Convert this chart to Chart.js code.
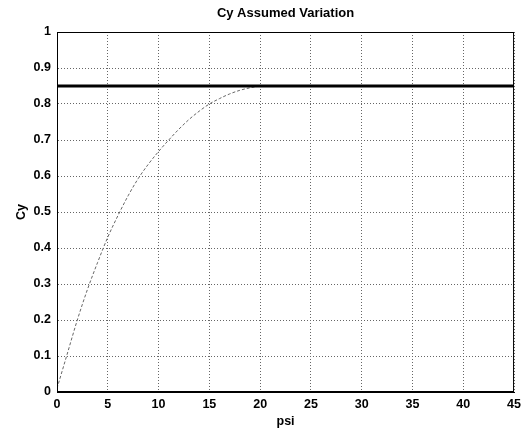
<!DOCTYPE html>
<html>
<head>
<meta charset="utf-8">
<script src="https://cdn.jsdelivr.net/npm/chart.js@4/dist/chart.umd.min.js"></script>
<style>
  html, body { margin: 0; padding: 0; background: #fff; }
  canvas { display: block; }
</style>
</head>
<body>
<canvas id="cyChart" width="526" height="429"></canvas>
<script>
// assumed Cy curve
var psiCurve = [0, 1, 2, 3, 4, 5, 6, 7, 8, 9, 10, 11, 12, 13, 14, 15, 16, 17, 18, 19, 20];
var cyCurve = [0.01, 0.105, 0.2, 0.285, 0.36, 0.43, 0.49, 0.545, 0.593, 0.633, 0.668,
               0.70, 0.73, 0.757, 0.78, 0.80, 0.815, 0.828, 0.838, 0.845, 0.85];
// constant level
var psiLevel = [0, 45];
var cyLevel = [0.85, 0.85];

var xTicks = [0, 5, 10, 15, 20, 25, 30, 35, 40, 45];
var yTicks = [0, 0.1, 0.2, 0.3, 0.4, 0.5, 0.6, 0.7, 0.8, 0.9, 1];

function toPoints(xs, ys) {
    return xs.map(function (x, i) { return { x: x, y: ys[i] }; });
}

// box round the axes, like matlab
var boxPlugin = {
    id: 'box',
    afterDraw: function (chart) {
        var a = chart.chartArea, ctx = chart.ctx;
        ctx.save();
        ctx.strokeStyle = '#000';
        ctx.lineWidth = 1;
        ctx.strokeRect(a.left + 0.5, a.top + 0.5, a.right - a.left - 1, a.bottom - a.top - 1);
        ctx.restore();
    }
};

var tickFont = { family: 'Liberation Sans, Arial, sans-serif', size: 12.5, weight: 'bold' };

new Chart(document.getElementById('cyChart'), {
    type: 'line',
    data: {
        datasets: [{
            data: toPoints(psiLevel, cyLevel),
            borderColor: '#000',
            borderWidth: 3,
            pointRadius: 0,
            tension: 0
        }, {
            data: toPoints(psiCurve, cyCurve),
            borderColor: '#666',
            borderWidth: 1,
            borderDash: [3, 2],
            pointRadius: 0,
            cubicInterpolationMode: 'monotone'
        }]
    },
    plugins: [boxPlugin],
    options: {
        responsive: false,
        animation: false,
        layout: { padding: { left: 0, right: 7, top: 0, bottom: 0 } },
        plugins: {
            legend: { display: false },
            tooltip: { enabled: false },
            title: {
                display: true,
                text: 'Cy Assumed Variation',
                color: '#000',
                fullSize: false,
                font: { family: 'Liberation Sans, Arial, sans-serif', size: 13, weight: 'bold' },
                padding: { top: 6, bottom: 10.4 }
            }
        },
        scales: {
            x: {
                type: 'linear',
                min: 0,
                max: 45,
                afterFit: function (s) { s.height = 37; },
                afterBuildTicks: function (s) { s.ticks = xTicks.map(function (v) { return { value: v }; }); },
                grid: { color: '#666', drawTicks: false },
                border: { color: '#000', dash: [1, 2] },
                ticks: { color: '#000', font: tickFont, padding: 5, maxRotation: 0 },
                title: {
                    display: true,
                    text: 'psi',
                    color: '#000',
                    font: tickFont,
                    padding: { top: 0, bottom: 0 }
                }
            },
            y: {
                type: 'linear',
                min: 0,
                max: 1,
                afterFit: function (s) { s.width = 57; },
                afterBuildTicks: function (s) { s.ticks = yTicks.map(function (v) { return { value: v }; }); },
                grid: { color: '#666', drawTicks: false },
                border: { color: '#000', dash: [1, 2] },
                ticks: {
                    color: '#000',
                    font: tickFont,
                    padding: 6,
                    callback: function (v) { return Math.round(v * 10) / 10; }
                },
                title: {
                    display: true,
                    text: 'Cy',
                    color: '#000',
                    font: tickFont,
                    padding: { top: 14, bottom: 0 }
                }
            }
        }
    }
});
</script>
</body>
</html>
